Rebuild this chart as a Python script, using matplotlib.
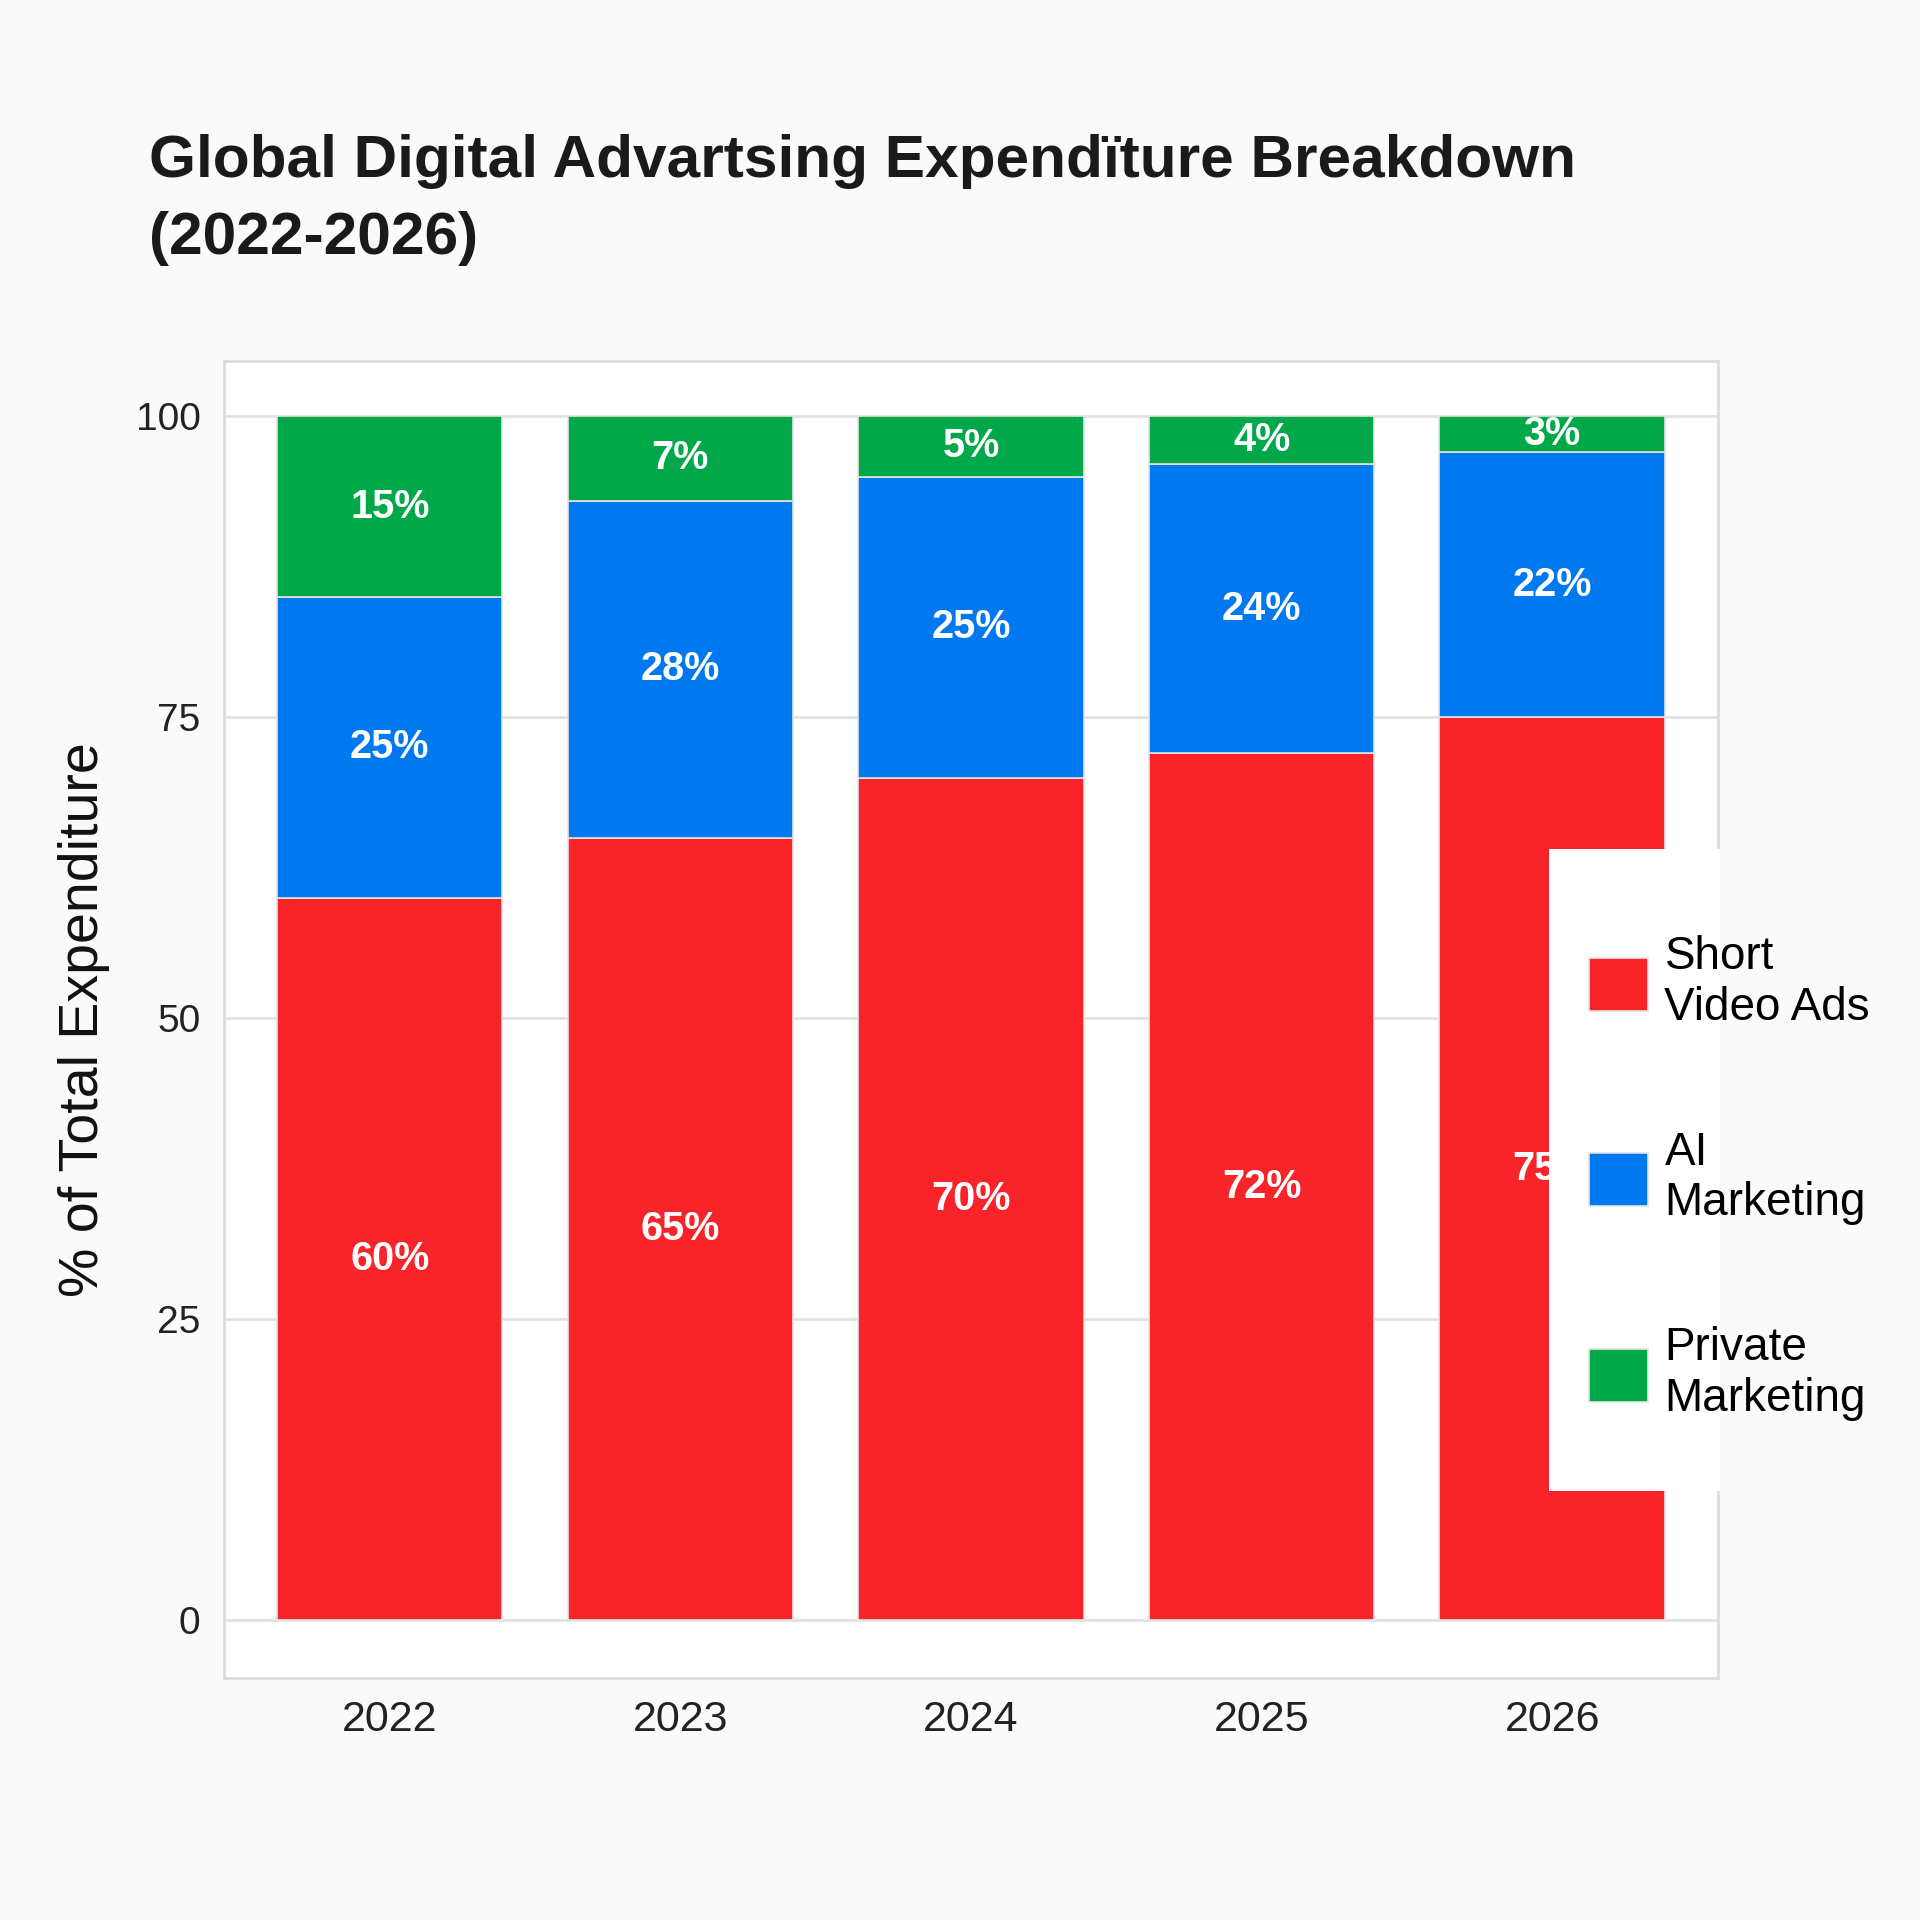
import matplotlib
matplotlib.use("Agg")
import matplotlib.pyplot as plt
from matplotlib.patches import Rectangle
import numpy as np

# data
years = ['2022', '2023', '2024', '2025', '2026']
short_video = [60, 65, 70, 72, 75]
ai_marketing = [25, 28, 25, 24, 22]
private_marketing = [15, 7, 5, 4, 3]
series_names = ['Short\nVideo Ads', 'AI\nMarketing', 'Private\nMarketing']
colors = ['#F8242A', '#0078F0', '#00A84A']

plt.rcParams['font.family'] = ['Liberation Sans', 'DejaVu Sans']

fig = plt.figure(figsize=(19.2, 19.2), dpi=100, facecolor='#fafafa')
ax = fig.add_axes([0.1167, 0.126, 0.778, 0.686])
ax.set_facecolor('white')

x = np.arange(len(years))
w = 0.776
bottom = np.zeros(len(years))
for vals, name, c in zip([short_video, ai_marketing, private_marketing], series_names, colors):
    vals = np.array(vals, dtype=float)
    ax.bar(x, vals, w, bottom=bottom, color=c, label=name,
           edgecolor='#e4e4e4', linewidth=1.2, zorder=2)
    for xi, b, v in zip(x, bottom, vals):
        ax.text(xi, b + v / 2, f'{int(v)}%', ha='center', va='center',
                color='white', fontsize=28.5, fontweight='bold', zorder=3)
    bottom += vals

ax.set_xlim(-0.57, 4.57)
ax.set_ylim(-4.8, 104.6)
ax.set_yticks([0, 25, 50, 75, 100])
ax.set_xticks(x)
ax.set_xticklabels(years)
ax.tick_params(axis='y', length=0, pad=17, labelsize=28, labelcolor='#222222')
ax.tick_params(axis='x', length=0, pad=16, labelsize=31, labelcolor='#222222')
ax.grid(axis='y', color='#e2e2e2', linewidth=2, zorder=0)
for s in ax.spines.values():
    s.set_color('#dcdcdc')
    s.set_linewidth(2)

ax.set_ylabel('% of Total Expenditure', fontsize=40, color='#111111')
ax.yaxis.set_label_coords(-0.0763, 0.5)

fig.text(0.0776, 1 - 134 / 1920,
         'Global Digital Advartsing Expendïture Breakdown\n(2022-2026)',
         ha='left', va='top', fontsize=43.5, fontweight='bold',
         color='#1a1a1a', linespacing=1.5)

# white panel behind the legend, overlapping the last bar
panel = Rectangle((1549 / 1920, 1 - 1491 / 1920), 171 / 1920, 642 / 1920,
                  transform=fig.transFigure, facecolor='white',
                  edgecolor='none', zorder=4, clip_on=False)
ax.add_patch(panel)

leg = ax.legend(loc='upper left', bbox_to_anchor=(0.8156, 0.525),
                bbox_transform=fig.transFigure, fontsize=33,
                frameon=False, handlelength=1.3, handleheight=1.4,
                handletextpad=0.35, labelspacing=2.2, borderpad=0)
leg.set_zorder(6)

fig.savefig('out.png', dpi=100, facecolor=fig.get_facecolor())
